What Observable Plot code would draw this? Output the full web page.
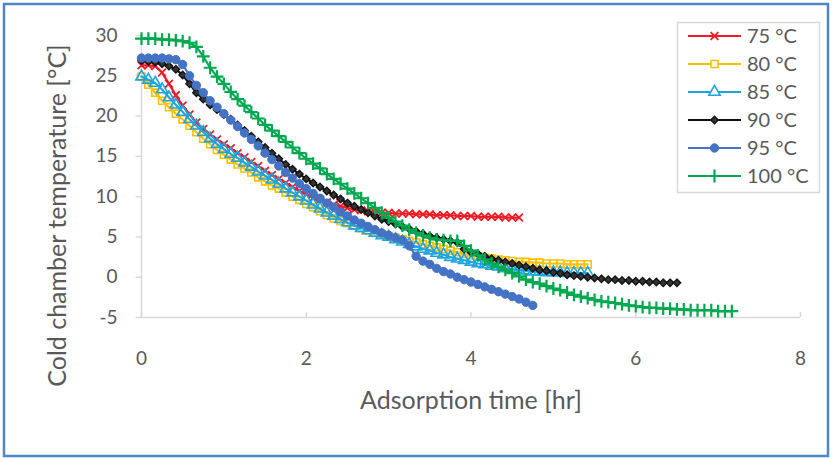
<!DOCTYPE html>
<html><head><meta charset="utf-8">
<script src="https://cdn.jsdelivr.net/npm/d3@7"></script>
<script src="https://cdn.jsdelivr.net/npm/@observablehq/plot@0.6"></script>
<style>
body{margin:0;background:#fff}
#chart{width:832px;height:459px}
</style>
</head><body><div id="chart"></div>
<script>
// sampling times (minutes)
const minutes = [0,5,10,15,20,25,30,35,40,45,50,55,60,65,70,75,80,85,90,95,100,105,110,115,120,125,130,135,140,145,150,155,160,165,170,175,180,185,190,195,200,205,210,215,220,225,230,235,240,245,250,255,260,265,270,275,280,285,290,295,300,305,310,315,320,325,330,335,340,345,350,355,360,365,370,375,380,385,390,395,400,405,410,415,420,425,430];

const seriesNames = ["75 °C","80 °C","85 °C","90 °C","95 °C","100 °C"];

const t75 = [26.3,26.3,26.2,25.4,24.0,22.6,21.3,20.2,19.2,18.4,17.7,17.1,16.5,16.0,15.4,14.9,14.3,13.8,13.2,12.7,12.2,11.7,11.2,10.7,10.3,9.9,9.6,9.3,9.0,8.8,8.6,8.4,8.3,8.2,8.1,8.0,8.0,7.9,7.9,7.9,7.8,7.8,7.8,7.7,7.7,7.7,7.6,7.6,7.6,7.5,7.5,7.5,7.5,7.4,7.4,7.4];
const t80 = [24.9,23.9,22.9,21.9,21.1,20.3,19.6,18.8,18.0,17.2,16.5,15.8,15.2,14.6,14.0,13.5,13.0,12.4,11.9,11.4,11.0,10.5,10.0,9.6,9.1,8.7,8.2,7.7,7.3,7.0,6.7,6.4,6.1,5.8,5.5,5.3,5.1,4.9,4.7,4.5,4.3,4.1,3.9,3.7,3.5,3.3,3.1,2.9,2.7,2.6,2.4,2.3,2.2,2.1,2.0,1.9,1.9,1.8,1.8,1.7,1.7,1.7,1.6,1.6,1.6,1.6];
const t85 = [24.9,24.5,24.1,23.3,22.3,21.4,20.5,19.6,18.8,18.0,17.2,16.5,15.9,15.3,14.8,14.2,13.7,13.1,12.6,12.1,11.6,11.0,10.5,10.0,9.5,9.0,8.5,8.0,7.6,7.2,6.8,6.4,6.1,5.8,5.5,5.2,5.0,4.7,4.4,4.1,3.8,3.5,3.3,3.0,2.8,2.5,2.3,2.1,1.9,1.7,1.6,1.4,1.3,1.1,1.0,0.9,0.8,0.7,0.7,0.6,0.6,0.6,0.5,0.5,0.5,0.5];
const t90 = [26.9,26.8,26.7,26.5,26.2,25.8,25.1,24.0,22.9,22.1,21.4,20.8,20.2,19.6,18.9,18.2,17.5,16.8,16.1,15.4,14.7,14.0,13.4,12.8,12.2,11.7,11.2,10.7,10.2,9.7,9.2,8.8,8.4,8.0,7.6,7.2,6.9,6.6,6.3,6.0,5.7,5.4,5.1,4.9,4.7,4.5,4.3,3.5,3.1,2.9,2.6,2.3,2.1,1.9,1.7,1.5,1.3,1.1,0.9,0.8,0.6,0.5,0.3,0.2,0.1,0.0,-0.1,-0.2,-0.3,-0.3,-0.4,-0.4,-0.5,-0.5,-0.6,-0.6,-0.7,-0.7,-0.7];
const t95 = [27.2,27.2,27.2,27.2,27.1,27.0,26.4,25.0,23.8,22.9,21.9,21.1,20.3,19.5,18.7,17.9,17.1,16.3,15.4,14.6,13.8,13.0,12.3,11.6,11.0,10.4,9.8,9.2,8.7,8.1,7.6,7.1,6.7,6.3,5.9,5.5,5.2,4.9,4.6,3.9,2.6,2.0,1.6,1.1,0.7,0.4,0.0,-0.3,-0.6,-0.9,-1.2,-1.5,-1.8,-2.1,-2.4,-2.7,-3.1,-3.5];
const t100 = [29.6,29.6,29.6,29.5,29.5,29.4,29.3,29.1,28.6,27.4,26.0,24.9,24.0,23.0,22.1,21.3,20.5,19.7,18.9,18.2,17.5,16.8,16.1,15.4,14.7,14.1,13.5,12.8,12.2,11.6,11.0,10.4,9.8,9.2,8.6,8.0,7.4,6.9,6.4,5.9,5.5,5.2,4.9,4.7,4.6,4.5,4.5,3.9,3.3,2.7,2.2,1.7,1.3,0.9,0.5,0.1,-0.3,-0.6,-0.8,-1.1,-1.4,-1.6,-1.9,-2.2,-2.4,-2.6,-2.8,-3.0,-3.1,-3.2,-3.35,-3.5,-3.6,-3.7,-3.8,-3.8,-3.9,-3.9,-4.0,-4.0,-4.1,-4.1,-4.1,-4.1,-4.2,-4.2,-4.2];

const xTicks = [0,2,4,6,8];
const yTicks = [-5,0,5,10,15,20,25,30];
const xTitle = "Adsorption time [hr]";
const yTitle = "Cold chamber temperature [°C]";

const allValues = [t75,t80,t85,t90,t95,t100];
const styles = [
  {color:"#ee1c25", symbol:"times", r:3.6, fill:"none", sw:1.8},
  {color:"#ffc000", symbol:"square", r:4.0, fill:"none", sw:1.6},
  {color:"#1ea5e0", symbol:"triangle", r:4.2, fill:"none", sw:1.6},
  {color:"#111111", symbol:"diamond2", r:3.4, fill:"#333", sw:1.3},
  {color:"#4472c4", symbol:"circle", r:4.2, fill:"#4472c4", sw:1},
  {color:"#00a84f", symbol:"plus", r:4.2, fill:"none", sw:2.2}
];

const series = seriesNames.map((name, k) =>
  allValues[k].map((v, i) => ({t: minutes[i] / 60, v, name})));

const font = "Lato, 'Open Sans', sans-serif";
const grey = "#d9d9d9";
const textGrey = "#595959";

const marks = [
  Plot.ruleY([-5], {stroke: grey, strokeWidth: 1.5}),
  Plot.ruleX([0], {stroke: grey, strokeWidth: 1.5}),
  Plot.ruleX(xTicks, {x: d => d, y1: -5, y2: -4.4, stroke: grey, strokeWidth: 1.5}),
  Plot.ruleY(yTicks, {y: d => d, x1: -0.065, x2: 0, stroke: grey, strokeWidth: 1.5}),
  Plot.text(xTicks, {x: d => d, y: -5, dy: 41, text: d => String(d), fontSize: 19, fill: textGrey, textAnchor: "middle"}),
  Plot.text(yTicks, {x: 0, y: d => d, dx: -24, text: d => String(d), fontSize: 19, fill: textGrey, textAnchor: "end"}),
  Plot.text([yTitle], {text: d => d, frameAnchor: "left", dx: -84, dy: 39, rotate: -90, textAnchor: "middle", fontSize: 25, fill: textGrey}),
  Plot.text([xTitle], {text: d => d, frameAnchor: "bottom", dy: 91, textAnchor: "middle", fontSize: 25, fill: textGrey})
];
series.forEach((data, k) => {
  const s = styles[k];
  marks.push(Plot.line(data, {x: "t", y: "v", stroke: s.color, strokeWidth: 2.2}));
  marks.push(Plot.dot(data, {x: "t", y: "v", symbol: s.symbol, r: s.r, stroke: s.color, fill: s.fill, strokeWidth: s.sw}));
});

const svg = Plot.plot({
  width: 832, height: 459,
  marginTop: 35, marginRight: 32, marginBottom: 142, marginLeft: 141,
  x: {domain: [0, 8], axis: null},
  y: {domain: [-5, 30], axis: null},
  style: {fontFamily: font, color: textGrey, background: "#fff", overflow: "visible"},
  marks
});

// legend
const g = d3.select(svg).append("g").attr("text-anchor", "start");
g.append("rect").attr("x", 677.5).attr("y", 22.5).attr("width", 142).attr("height", 170)
  .attr("fill", "#fff").attr("stroke", grey).attr("stroke-width", 1.5);
const symMap = {times: d3.symbolTimes, square: d3.symbolSquare, triangle: d3.symbolTriangle, diamond2: d3.symbolDiamond2, circle: d3.symbolCircle, plus: d3.symbolPlus};
seriesNames.forEach((name, k) => {
  const s = styles[k];
  const y = 36 + 28 * k;
  g.append("line").attr("x1", 688).attr("x2", 741).attr("y1", y).attr("y2", y)
    .attr("stroke", s.color).attr("stroke-width", 2.2);
  g.append("path").attr("transform", `translate(714.5,${y})`)
    .attr("d", d3.symbol(symMap[s.symbol], Math.PI * s.r * s.r)())
    .attr("fill", s.fill === "none" ? "#fff" : s.fill).attr("stroke", s.color).attr("stroke-width", s.sw);
  g.append("text").attr("x", 747).attr("y", y).attr("dy", "0.35em").attr("text-anchor", "start")
    .attr("font-size", 20).attr("fill", textGrey).attr("font-family", font).text(name);
});
// outer frame
d3.select(svg).append("rect").attr("x", 4).attr("y", 4).attr("width", 824).attr("height", 452)
  .attr("fill", "none").attr("stroke", "#4f87c6").attr("stroke-width", 2.5);

document.getElementById("chart").appendChild(svg);
</script>
</body></html>
